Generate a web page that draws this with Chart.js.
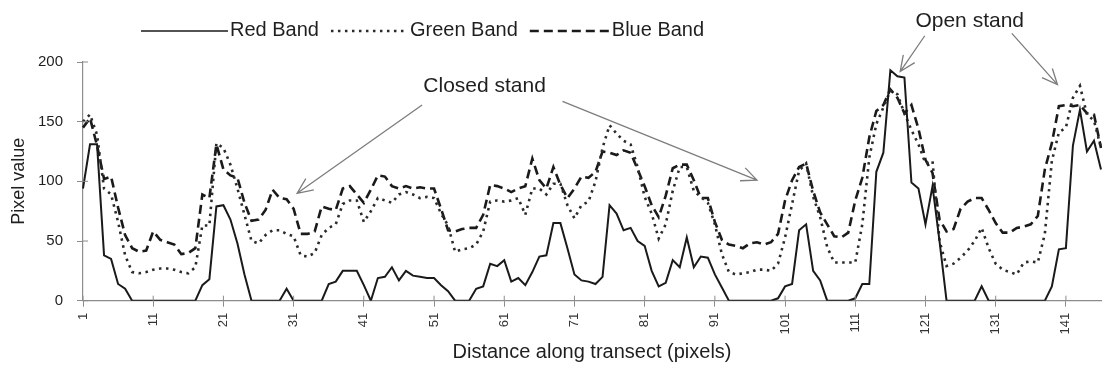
<!DOCTYPE html>
<html>
<head>
<meta charset="utf-8">
<title>Pixel values along transect</title>
<script src="https://cdn.jsdelivr.net/npm/chart.js@4.4.1/dist/chart.umd.min.js"></script>
<style>
  html, body { margin: 0; padding: 0; background: #ffffff; }
  #wrap { width: 1105px; height: 375px; position: relative; }
</style>
</head>
<body>
<div id="wrap"><canvas id="transect"></canvas></div>
<script>
// Pixel positions along the transect (categories)
const positions = [];
for (let p = 1; p <= 146; p++) positions.push(p);

// Positions that carry a tick label on the x axis
const tickLabels = [1, 11, 21, 31, 41, 51, 61, 71, 81, 91, 101, 111, 121, 131, 141];

// Band values sampled along the transect
const redBand = [
  94, 131, 131, 38, 35, 14, 10, 0, 0, 0,
  0, 0, 0, 0, 0, 0, 0, 13, 18, 79,
  80, 68, 48, 22, 0, 0, 0, 0, 0, 10,
  0, 0, 0, 0, 0, 14, 16, 25, 25, 25,
  13, 0, 19, 20, 28, 17, 25, 21, 20, 19,
  19, 13, 8, 0, 0, 0, 10, 12, 31, 29,
  34, 16, 19, 13, 24, 37, 38, 65, 65, 44,
  22, 17, 16, 14, 20, 80, 73, 59, 61, 50,
  46, 25, 12, 15, 34, 28, 53, 28, 37, 36,
  22, 11, 0, 0, 0, 0, 0, 0, 0, 2,
  12, 14, 59, 64, 25, 17, 0, 0, 0, 0,
  2, 14, 14, 108, 124, 193, 188, 187, 99, 94,
  64, 96, 50, 0, 0, 0, 0, 0, 12, 0,
  0, 0, 0, 0, 0, 0, 0, 0, 12, 43,
  44, 130, 160, 125, 134, 110
];

const greenBand = [
  150, 156, 139, 94, 89, 66, 38, 24, 23, 24,
  26, 27, 27, 26, 24, 23, 28, 63, 63, 132,
  128, 114, 94, 72, 50, 48, 55, 59, 59, 56,
  54, 38, 37, 40, 55, 61, 64, 81, 84, 84,
  66, 75, 86, 84, 82, 89, 91, 89, 86, 87,
  86, 73, 63, 41, 43, 44, 47, 58, 83, 84,
  83, 84, 86, 72, 94, 94, 89, 98, 98, 80,
  69, 80, 83, 100, 128, 147, 140, 134, 131, 112,
  87, 73, 52, 64, 92, 112, 112, 92, 87, 82,
  64, 39, 24, 22, 23, 24, 26, 26, 25, 31,
  53, 81, 109, 115, 87, 70, 45, 32, 32, 32,
  32, 64, 120, 148, 162, 176, 173, 157, 143, 131,
  115, 117, 50, 29, 31, 36, 42, 50, 61, 44,
  31, 26, 24, 22, 32, 33, 32, 56, 117, 141,
  145, 170, 180, 156, 151, 128
];

const blueBand = [
  145, 153, 130, 102, 104, 78, 55, 44, 41, 42,
  58, 51, 49, 47, 39, 40, 44, 89, 86, 131,
  110, 105, 103, 82, 67, 68, 76, 93, 86, 85,
  77, 56, 56, 58, 79, 77, 76, 94, 96, 89,
  82, 93, 105, 104, 96, 94, 96, 94, 95, 94,
  94, 77, 59, 58, 60, 61, 61, 72, 97, 96,
  94, 91, 94, 96, 119, 101, 94, 112, 97, 86,
  94, 104, 103, 108, 125, 124, 122, 126, 124, 110,
  96, 80, 70, 88, 111, 114, 114, 101, 86, 86,
  66, 51, 47, 46, 44, 48, 49, 47, 49, 56,
  84, 101, 112, 115, 92, 74, 64, 54, 53, 57,
  84, 103, 137, 159, 164, 177, 170, 157, 164, 144,
  118, 107, 68, 58, 60, 77, 83, 86, 86, 76,
  65, 57, 57, 61, 62, 64, 71, 110, 132, 163,
  164, 163, 164, 157, 156, 128
];

const FONT = "'Liberation Sans', Arial, Helvetica, sans-serif";
const INK = '#1f1f1f';
const AXIS = '#8c8c8c';

// Callout labels with their arrows, anchored in data space (position, value)
const callouts = [
  { text: 'Closed stand', at: [58.2, 180],
    arrows: [ { from: [49.3, 164], to: [31.5, 90] },
              { from: [69.3, 167], to: [97.0, 101] } ] },
  { text: 'Open stand', at: [127.3, 234.5],
    arrows: [ { from: [120.9, 222], to: [117.4, 192] },
              { from: [133.3, 224], to: [139.8, 181] } ] }
];

// Legend: sample line drawn right against its label, items in one row
const legendRow = {
  id: 'legendRow',
  afterDraw(chart) {
    const ctx = chart.ctx;
    const lineLens = [87, 77, 80];
    let x = 141;
    const y = 30;
    ctx.save();
    ctx.font = '20px ' + FONT;
    ctx.textBaseline = 'middle';
    ctx.textAlign = 'left';
    chart.data.datasets.forEach((ds, i) => {
      ctx.beginPath();
      ctx.setLineDash(ds.borderDash || []);
      ctx.lineWidth = i === 0 ? 1.6 : ds.borderWidth;
      ctx.strokeStyle = ds.borderColor;
      ctx.moveTo(x, y + 1);
      ctx.lineTo(x + lineLens[i], y + 1);
      ctx.stroke();
      x += lineLens[i] + 2;
      ctx.setLineDash([]);
      ctx.fillStyle = INK;
      ctx.fillText(ds.label, x, y);
      x += ctx.measureText(ds.label).width + 12;
    });
    ctx.restore();
  }
};

// Callout text and open-headed arrows
const calloutLayer = {
  id: 'calloutLayer',
  afterDraw(chart) {
    const ctx = chart.ctx;
    const xs = chart.scales.x, ys = chart.scales.y;
    const px = p => xs.getPixelForValue(p - 1);
    const py = v => ys.getPixelForValue(v);
    ctx.save();
    callouts.forEach(c => {
      ctx.font = '21px ' + FONT;
      ctx.fillStyle = INK;
      ctx.textAlign = 'center';
      ctx.textBaseline = 'middle';
      ctx.fillText(c.text, px(c.at[0]), py(c.at[1]));
      c.arrows.forEach(a => {
        const x0 = px(a.from[0]), y0 = py(a.from[1]);
        const x1 = px(a.to[0]), y1 = py(a.to[1]);
        const ang = Math.atan2(y1 - y0, x1 - x0);
        const head = 17, spread = 0.42;
        ctx.strokeStyle = '#7d7d7d';
        ctx.lineWidth = 1.3;
        ctx.setLineDash([]);
        ctx.beginPath();
        ctx.moveTo(x0, y0);
        ctx.lineTo(x1, y1);
        ctx.moveTo(x1 - head * Math.cos(ang - spread), y1 - head * Math.sin(ang - spread));
        ctx.lineTo(x1, y1);
        ctx.lineTo(x1 - head * Math.cos(ang + spread), y1 - head * Math.sin(ang + spread));
        ctx.stroke();
      });
    });
    ctx.restore();
  }
};

// Short tick stubs on the inner side of both axes
const innerTicks = {
  id: 'innerTicks',
  afterDatasetsDraw(chart) {
    const ctx = chart.ctx;
    const xs = chart.scales.x, ys = chart.scales.y;
    const area = chart.chartArea;
    ctx.save();
    ctx.strokeStyle = AXIS;
    ctx.lineWidth = 1;
    ctx.beginPath();
    ys.ticks.forEach(t => {
      const y = ys.getPixelForValue(t.value);
      ctx.moveTo(area.left, y);
      ctx.lineTo(area.left + 5, y);
    });
    tickLabels.forEach(p => {
      const x = xs.getPixelForValue(positions.indexOf(p));
      ctx.moveTo(x, area.bottom);
      ctx.lineTo(x, area.bottom - 5);
    });
    ctx.stroke();
    ctx.restore();
  }
};

new Chart(document.getElementById('transect'), {
  type: 'line',
  data: {
    labels: positions,
    datasets: [
      { label: 'Red Band', data: redBand, borderColor: '#1a1a1a', borderWidth: 2,
        borderDash: [], pointRadius: 0, tension: 0, fill: false },
      { label: 'Green Band', data: greenBand, borderColor: '#2a2a2a', borderWidth: 2.6,
        borderDash: [2.5, 4.5], pointRadius: 0, tension: 0, fill: false },
      { label: 'Blue Band', data: blueBand, borderColor: '#1a1a1a', borderWidth: 2.6,
        borderDash: [9, 5], pointRadius: 0, tension: 0, fill: false }
    ]
  },
  options: {
    responsive: true,
    maintainAspectRatio: false,
    animation: false,
    events: [],
    layout: { padding: { top: 62, right: 4, bottom: 0, left: 0 } },
    plugins: { legend: { display: false }, tooltip: { enabled: false } },
    scales: {
      x: {
        type: 'category',
        offset: false,
        border: { color: AXIS, width: 1.2 },
        grid: {
          drawOnChartArea: false,
          drawTicks: true,
          tickLength: 6,
          color: ctx => (tickLabels.includes(positions[ctx.index]) ? AXIS : 'rgba(0,0,0,0)')
        },
        ticks: {
          autoSkip: false,
          maxRotation: 90,
          minRotation: 90,
          padding: 6,
          color: '#333',
          font: { family: FONT, size: 13 },
          callback: (v, i) => (tickLabels.includes(positions[i]) ? String(positions[i]) : '')
        },
        title: {
          display: true,
          text: 'Distance along transect (pixels)',
          color: INK,
          font: { family: FONT, size: 20 },
          padding: { top: 0, bottom: 11 }
        },
        afterFit: s => { s.height = 74.3; s.paddingLeft = 0; s.paddingRight = 0; }
      },
      y: {
        min: 0,
        max: 200,
        border: { color: AXIS, width: 1.2 },
        grid: { drawOnChartArea: false, drawTicks: true, tickLength: 6, color: AXIS },
        ticks: {
          stepSize: 50,
          padding: 14,
          color: INK,
          font: { family: FONT, size: 15 }
        },
        title: {
          display: true,
          text: 'Pixel value',
          color: INK,
          font: { family: FONT, size: 18 },
          padding: { top: 8, bottom: 0 }
        },
        afterFit: s => { s.width = 83; s.paddingTop = 0; s.paddingBottom = 0; }
      }
    }
  },
  plugins: [innerTicks, legendRow, calloutLayer]
});
</script>
</body>
</html>
